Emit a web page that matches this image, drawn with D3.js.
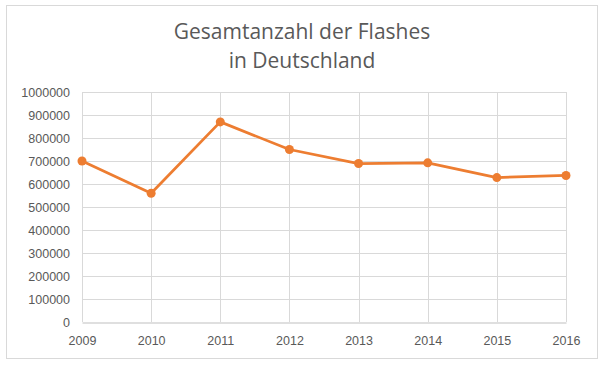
<!DOCTYPE html>
<html>
<head>
<meta charset="utf-8">
<script src="https://cdn.jsdelivr.net/npm/d3@7"></script>
<style>
  body { margin: 0; background: #fff; }
  svg { display: block; font-family: "Open Sans", "Noto Sans", sans-serif; }
</style>
</head>
<body>
<script>
const years = [2009, 2010, 2011, 2012, 2013, 2014, 2015, 2016]
const flashes = [700000, 560000, 870000, 750000, 689000, 692000, 628000, 637000]
const yTicks = [0, 100000, 200000, 300000, 400000, 500000, 600000, 700000, 800000, 900000, 1000000]
const titleLines = ["Gesamtanzahl der Flashes", "in Deutschland"]

const width = 603
const height = 365
const margin = {left: 82, right: 37, top: 92, bottom: 43}

const svg = d3.select("body").append("svg")
    .attr("width", width)
    .attr("height", height)

// chart frame
svg.append("rect")
    .attr("x", 6.5).attr("y", 5.5)
    .attr("width", 591).attr("height", 353)
    .attr("fill", "#fff")
    .attr("stroke", "#d9d9d9")

const x = d3.scalePoint()
    .domain(years)
    .range([margin.left, width - margin.right])

const y = d3.scaleLinear()
    .domain([0, 1000000])
    .range([height - margin.bottom, margin.top])

// horizontal gridlines
svg.append("g")
    .selectAll("line")
    .data(yTicks.slice(1))
    .enter().append("line")
    .attr("x1", margin.left).attr("x2", width - margin.right)
    .attr("y1", d => Math.round(y(d)) + 0.5)
    .attr("y2", d => Math.round(y(d)) + 0.5)
    .attr("stroke", "#d9d9d9")

// vertical gridlines
svg.append("g")
    .selectAll("line")
    .data(years)
    .enter().append("line")
    .attr("x1", d => Math.round(x(d)) + 0.5)
    .attr("x2", d => Math.round(x(d)) + 0.5)
    .attr("y1", margin.top).attr("y2", height - margin.bottom)
    .attr("stroke", "#d9d9d9")

// y axis labels
const yAxis = svg.append("g")
    .attr("transform", `translate(${margin.left},0)`)
    .call(d3.axisLeft(y).tickValues(yTicks).tickFormat(d3.format("d")).tickSize(0).tickPadding(12))
yAxis.select(".domain").remove()
yAxis.selectAll("text")
    .attr("fill", "#595959")
    .style("font-size", "12.5px")

// x axis
const xAxis = svg.append("g")
    .attr("transform", `translate(0,${Math.round(y(0)) + 0.5})`)
    .call(d3.axisBottom(x).tickSize(0).tickPadding(14))
xAxis.select(".domain").attr("stroke", "#bfbfbf")
xAxis.selectAll("text")
    .attr("fill", "#595959")
    .style("font-size", "12.5px")

// line
const line = d3.line()
    .x((d, i) => x(years[i]))
    .y(d => y(d))

svg.append("path")
    .datum(flashes)
    .attr("d", line)
    .attr("fill", "none")
    .attr("stroke", "#ed7d31")
    .attr("stroke-width", 2.75)
    .attr("stroke-linejoin", "round")

svg.append("g")
    .selectAll("circle")
    .data(flashes)
    .enter().append("circle")
    .attr("cx", (d, i) => x(years[i]))
    .attr("cy", d => y(d))
    .attr("r", 4.5)
    .attr("fill", "#ed7d31")

// title
svg.append("text")
    .attr("x", 302)
    .attr("y", 39)
    .attr("text-anchor", "middle")
    .attr("fill", "#595959")
    .style("font-size", "21px")
    .selectAll("tspan")
    .data(titleLines)
    .enter().append("tspan")
    .attr("x", 302)
    .attr("dy", (d, i) => i === 0 ? 0 : 29)
    .text(d => d)
</script>
</body>
</html>
